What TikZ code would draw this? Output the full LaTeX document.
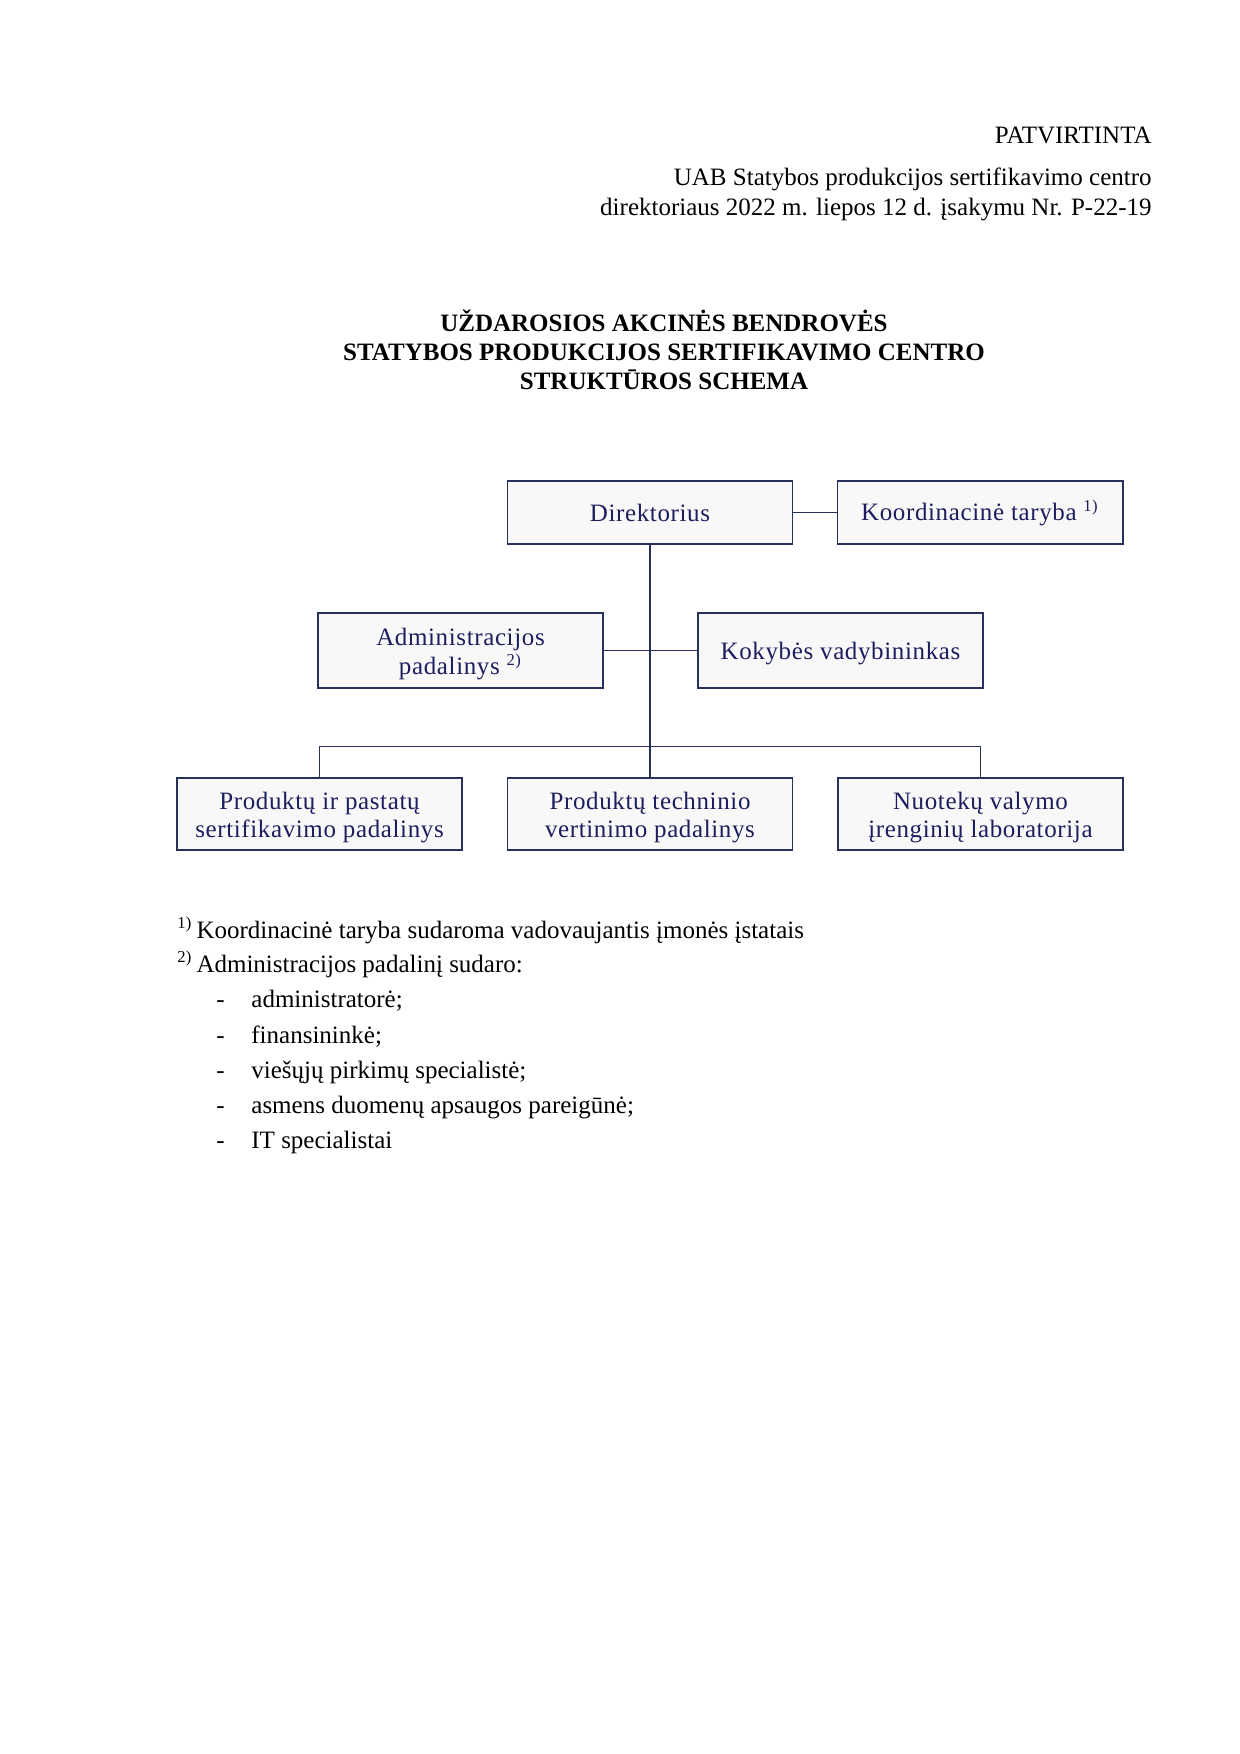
\documentclass[tikz,border=0pt]{standalone}
\usepackage{fontspec}
\setmainfont{Liberation Serif}
\newfontfamily\unitfont[LetterSpace=2.5]{Liberation Serif}
\newcommand{\unitstrut}{\rule{0pt}{11.6pt}}
\usetikzlibrary{positioning}
\definecolor{boxline}{RGB}{40,48,92}
\definecolor{boxtext}{RGB}{30,30,95}
\definecolor{boxfill}{RGB}{248,248,248}

\begin{document}
\begin{tikzpicture}[x=0.48pt, y=-0.48pt,
    every node/.append style={font=\fontsize{12}{14}\selectfont, inner sep=0pt},
    unit/.style={draw=boxline, line width=0.95pt, fill=boxfill, text=boxtext,
      minimum width=136.8pt, minimum height=29.8pt, align=center,
      font=\unitfont\fontsize{12}{13.8}\selectfont},
    twoline/.style={unit, minimum height=35pt},
    link/.style={draw=boxline, line width=0.6pt}]
    \useasboundingbox (0,0) rectangle (1240,1754);

    % approval stamp
    \node (Patvirtinta) [anchor=base east] at (1152,143) {PATVIRTINTA};
    \node (Uab) [anchor=base east] at (1152,185) {UAB Statybos produkcijos sertifikavimo centro};
    \node (Isakymas) [anchor=base east] at (1152,215) {direktoriaus 2022 m. liepos 12 d. įsakymu Nr. P-22-19};

    % title
    \node (TitleA) [anchor=base, font=\bfseries\fontsize{12}{14}\selectfont] at (664,331) {UŽDAROSIOS AKCINĖS BENDROVĖS};
    \node (TitleB) [anchor=base, font=\bfseries\fontsize{12}{14}\selectfont] at (664,360) {STATYBOS PRODUKCIJOS SERTIFIKAVIMO CENTRO};
    \node (TitleC) [anchor=base, font=\bfseries\fontsize{12}{14}\selectfont] at (664,389) {STRUKTŪROS SCHEMA};

    % units
    \node (Direktorius) [unit] at (650,512.5) {Direktorius};
    \node (Koordinacine) [unit] at (980,512.5) {Koordinacinė taryba \textsuperscript{1)}};
    \node (Administracijos) [twoline, minimum height=36pt] at (460.5,650.5) {\unitstrut Administracijos\\padalinys \textsuperscript{2)}};
    \node (Kokybes) [twoline, minimum height=36pt] at (840.5,650.5) {\unitstrut Kokybės vadybininkas};
    \node (Produktu) [twoline] at (319.5,814) {\unitstrut Produktų ir pastatų\\sertifikavimo padalinys};
    \node (Techninio) [twoline] at (650,814) {\unitstrut Produktų techninio\\vertinimo padalinys};
    \node (Nuoteku) [twoline] at (980.5,814) {\unitstrut Nuotekų valymo\\įrenginių laboratorija};

    \draw[link] (Direktorius.east) -- (Koordinacine.west);
    \draw[link] (Direktorius.south) -- (Techninio.north);
    \draw[link] (Administracijos.east) -- (Kokybes.west);
    \draw[link] (Produktu.north) -- ++(0,-30) -| (Nuoteku.north);

    % footnotes
    \node (NoteA) [anchor=base west] at (177,938) {\textsuperscript{1)}\,Koordinacinė taryba sudaroma vadovaujantis įmonės įstatais};
    \node (NoteB) [anchor=base west] at (177,972) {\textsuperscript{2)}\,Administracijos padalinį sudaro:};
    \node (DashA) [anchor=base west] at (216,1007) {-};
    \node (ItemA) [anchor=base west] at (251,1007) {administratorė;};
    \node (DashB) [anchor=base west] at (216,1043) {-};
    \node (ItemB) [anchor=base west] at (251,1043) {finansininkė;};
    \node (DashC) [anchor=base west] at (216,1078) {-};
    \node (ItemC) [anchor=base west] at (251,1078) {viešųjų pirkimų specialistė;};
    \node (DashD) [anchor=base west] at (216,1113) {-};
    \node (ItemD) [anchor=base west] at (251,1113) {asmens duomenų apsaugos pareigūnė;};
    \node (DashE) [anchor=base west] at (216,1148) {-};
    \node (ItemE) [anchor=base west] at (251,1148) {IT specialistai};
\end{tikzpicture}
\end{document}
